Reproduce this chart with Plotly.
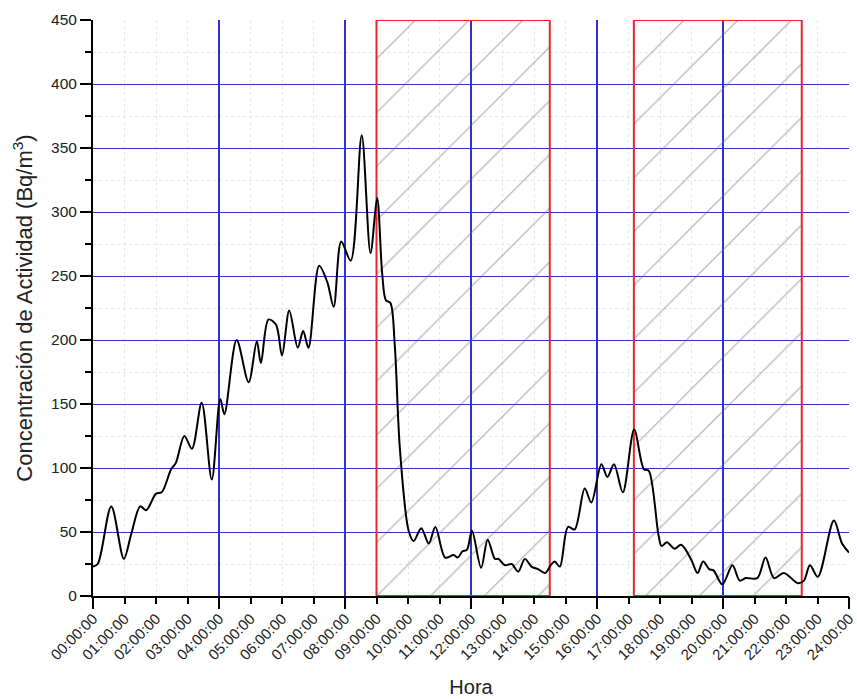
import plotly.graph_objects as go

# Activity concentration over one day (hours since 00:00 -> Bq/m3)
hours = [0, 0.15, 0.58, 0.98, 1.21, 1.5, 1.69, 2.0, 2.18, 2.48, 2.63, 2.9, 3.14,
         3.45, 3.77, 4.04, 4.17, 4.56, 4.94, 5.2, 5.33, 5.57, 5.81, 6.0, 6.23,
         6.5, 6.67, 6.84, 7.18, 7.44, 7.64, 7.88, 8.18, 8.53, 8.81, 9.02, 9.18,
         9.3, 9.44, 9.58, 9.74, 10.02, 10.18, 10.42, 10.66, 10.87, 11.18, 11.45,
         11.58, 11.73, 11.87, 12.03, 12.32, 12.53, 12.76, 12.87, 13.08, 13.29,
         13.5, 13.71, 13.92, 14.13, 14.35, 14.56, 14.66, 14.82, 15.08, 15.29,
         15.61, 15.82, 16.14, 16.33, 16.54, 16.82, 17.18, 17.49, 17.64, 17.95,
         18.05, 18.22, 18.46, 18.67, 18.98, 19.19, 19.37, 19.56, 19.7, 19.98,
         20.3, 20.53, 20.72, 21.09, 21.35, 21.62, 21.93, 22.38, 22.57, 22.76,
         23.01, 23.52, 23.78, 24.0]
activity = [23, 25, 70, 29, 48, 70, 67, 80, 81, 99, 104, 125, 115,
            151, 91, 154, 142, 200, 167, 199, 182, 216, 212, 188, 223,
            194, 207, 194, 258, 245, 226, 277, 262, 360, 268, 311, 252,
            231, 229, 196, 116, 51, 43, 53, 41, 54, 30, 32,
            30, 35, 36, 51, 22, 44, 29, 29, 24, 25,
            19, 29, 23, 21, 18, 25, 27, 23, 54, 52,
            84, 73, 103, 93, 103, 81, 130, 99, 98, 48,
            39, 42, 37, 40, 29, 18, 27, 21, 20, 9,
            24, 12, 14, 14, 30, 14, 18, 10, 12, 24,
            15, 59, 41, 34]

# Hatched intervals (start hour, end hour)
interval_start = [9.0, 17.17]
interval_end = [14.5, 22.5]

hour_ticks = list(range(0, 25))
hour_labels = ["%02d:00:00" % h for h in hour_ticks]
major_hour_ticks = list(range(0, 25, 4))

y_max = 450

BLUE = "#3030d8"
MINOR = "#dcecdc"
FONT = "Liberation Sans, Arial, sans-serif"

fig = go.Figure()

for x0, x1 in zip(interval_start, interval_end):
    fig.add_trace(go.Scatter(
        x=[x0, x0, x1, x1, x0], y=[0, y_max, y_max, 0, 0],
        mode="lines", fill="toself",
        fillcolor="rgba(0,0,0,0)",
        fillpattern=dict(shape="/", size=38, solidity=0.035,
                         fgcolor="rgba(100,100,100,0.9)", bgcolor="rgba(0,0,0,0)"),
        line=dict(color="#e8262b", width=2),
        hoverinfo="skip", showlegend=False,
    ))

fig.add_trace(go.Scatter(
    x=hours, y=activity, mode="lines",
    line=dict(color="black", width=2, shape="spline", smoothing=0.9),
    showlegend=False,
))

# carrier trace for the 4-hour major-grid axis
fig.add_trace(go.Scatter(x=[0], y=[0], xaxis="x2", mode="markers",
                         marker=dict(opacity=0), hoverinfo="skip", showlegend=False))

fig.update_layout(
    width=857, height=699,
    margin=dict(l=93, r=8, t=20, b=103),
    paper_bgcolor="white", plot_bgcolor="white",
    font=dict(family=FONT, color="#222222", size=15),
    xaxis=dict(
        range=[0, 24], tickmode="array", tickvals=hour_ticks, ticktext=hour_labels,
        tickangle=-45, tickfont=dict(size=15), ticklabeloverflow="allow",
        automargin=False, layer="below traces",
        ticks="outside", ticklen=6, tickwidth=1.5, tickcolor="black",
        showline=True, linecolor="black", linewidth=2,
        showgrid=True, gridcolor=MINOR, griddash="dot", gridwidth=1,
        zeroline=False,
        title=dict(text="Hora", font=dict(size=20), standoff=18),
    ),
    xaxis2=dict(
        range=[0, 24], overlaying="x", anchor="y", side="bottom",
        tickmode="array", tickvals=major_hour_ticks, showticklabels=False,
        automargin=False, layer="below traces",
        ticks="outside", ticklen=12, tickwidth=1.5, tickcolor="black",
        showline=False, showgrid=True, gridcolor=BLUE, gridwidth=1.6, zeroline=False,
    ),
    yaxis=dict(
        range=[0, y_max], dtick=50, tick0=0, tickfont=dict(size=15.5),
        automargin=False,
        ticks="outside", ticklen=11, tickwidth=1.5, tickcolor="black",
        showline=True, linecolor="black", linewidth=2,
        showgrid=True, gridcolor=BLUE, gridwidth=1, zeroline=False,
        minor=dict(dtick=25, ticks="outside", ticklen=6, tickwidth=1.5, tickcolor="black",
                   showgrid=True, gridcolor=MINOR, griddash="dot", gridwidth=1),
        title=dict(text="Concentración de Actividad (Bq/m<sup>3</sup>)",
                   font=dict(size=22), standoff=12),
    ),
)

fig.write_html("out.html")
